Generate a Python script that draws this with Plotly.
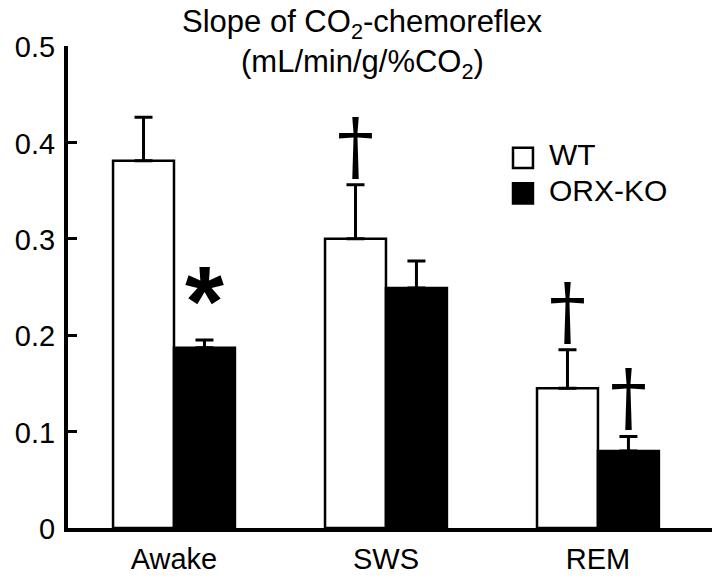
import plotly.graph_objects as go

# ---- data ----
categories = ["Awake", "SWS", "REM"]
series_names = ["WT", "ORX-KO"]
wt_values = [0.381, 0.300, 0.145]
wt_errors = [0.045, 0.056, 0.040]
ko_values = [0.187, 0.249, 0.080]
ko_errors = [0.008, 0.028, 0.015]
y_tick_vals = [0, 0.1, 0.2, 0.3, 0.4, 0.5]
y_tick_text = ["0", "0.1", "0.2", "0.3", "0.4", "0.5"]
# significance marks: (series index, category index, symbol)
marks = [(1, 0, "*"), (0, 1, "\u2020"), (0, 2, "\u2020"), (1, 2, "\u2020")]

FONT = "Arial, Liberation Sans, sans-serif"
BARGAP = 0.425
half = (1 - BARGAP) / 4  # offset of each bar centre from category centre

fig = go.Figure()
fig.add_trace(go.Bar(
    x=categories, y=wt_values, name=series_names[0],
    marker=dict(color="white", line=dict(color="black", width=2.5)),
    error_y=dict(type="data", array=wt_errors, arrayminus=[0] * len(wt_errors),
                 symmetric=False, color="black", thickness=3, width=9),
))
fig.add_trace(go.Bar(
    x=categories, y=ko_values, name=series_names[1],
    marker=dict(color="black", line=dict(color="black", width=2.5)),
    error_y=dict(type="data", array=ko_errors, arrayminus=[0] * len(ko_errors),
                 symmetric=False, color="black", thickness=3, width=9),
))

annotations = []
# title lines
annotations.append(dict(text="Slope of CO<sub>2</sub>-chemoreflex", xref="paper", yref="paper",
                        x=0.458, y=1.045, xanchor="center", yanchor="middle", showarrow=False,
                        font=dict(family=FONT, size=31, color="black")))
annotations.append(dict(text="(mL/min/g/%CO<sub>2</sub>)", xref="paper", yref="paper",
                        x=0.458, y=0.963, xanchor="center", yanchor="middle", showarrow=False,
                        font=dict(family=FONT, size=31, color="black")))

# significance marks
vals = [wt_values, ko_values]
errs = [wt_errors, ko_errors]
for s, c, sym in marks:
    xpos = c + (-half if s == 0 else half)
    top = vals[s][c] + errs[s][c]
    if sym == "*":
        annotations.append(dict(text="<b>*</b>", x=xpos, y=top, xref="x", yref="y",
                                xanchor="center", yanchor="bottom", yshift=-19, showarrow=False,
                                font=dict(family=FONT, size=100, color="black")))
    else:
        annotations.append(dict(text=sym, x=xpos, y=top, xref="x", yref="y",
                                xanchor="center", yanchor="bottom", yshift=-6, showarrow=False,
                                font=dict(family="DejaVu Serif, serif", size=74, color="black")))

# custom legend
legend_rows = [(0.768, "white"), (0.694, "black")]
shapes = []
for (yc, col), name in zip(legend_rows, series_names):
    shapes.append(dict(type="rect", xref="paper", yref="paper",
                       x0=0.691, x1=0.722, y0=yc - 0.021, y1=yc + 0.021,
                       fillcolor=col, line=dict(color="black", width=2.5)))
    annotations.append(dict(text=name, xref="paper", yref="paper", x=0.744, y=yc + 0.007,
                            xanchor="left", yanchor="middle", showarrow=False,
                            font=dict(family=FONT, size=30, color="black")))

fig.update_layout(
    width=714, height=578,
    margin=dict(l=68, r=2, t=46, b=50),
    paper_bgcolor="white", plot_bgcolor="white",
    barmode="group", bargap=BARGAP, bargroupgap=0,
    showlegend=False,
    font=dict(family=FONT, size=29, color="black"),
    annotations=annotations, shapes=shapes,
    xaxis=dict(range=[-0.5, 2.538], showline=True, linecolor="black", linewidth=4,
               ticks="", showgrid=False, zeroline=False, automargin=False,
               tickfont=dict(family=FONT, size=29, color="black"), ticklabelstandoff=2),
    yaxis=dict(range=[0, 0.5], tickvals=y_tick_vals, ticktext=y_tick_text,
               showline=True, linecolor="black", linewidth=4,
               ticks="inside", ticklen=9, tickwidth=3, tickcolor="black",
               showgrid=False, zeroline=False, automargin=False,
               tickfont=dict(family=FONT, size=29, color="black"),
               ticklabelstandoff=3, ticklabelshift=1),
)

fig.write_html("out.html", config={"displayModeBar": False},
               post_script="document.body.style.margin='0';document.body.style.padding='0';")
